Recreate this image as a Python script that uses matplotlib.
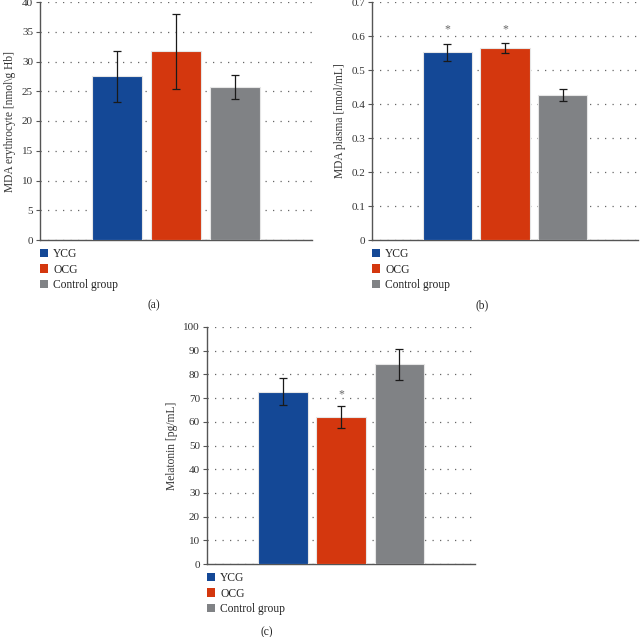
import matplotlib.pyplot as plt
from matplotlib.patches import Patch

plt.rcParams['font.family'] = ['Liberation Serif', 'DejaVu Serif']

# groups
groups = ['YCG', 'OCG', 'Control group']
colors = ['#144896', '#d4370e', '#808285']

# (a) MDA erythrocyte
mda_ery = [27.5, 31.7, 25.7]
mda_ery_err = [4.25, 6.25, 2.0]

# (b) MDA plasma
mda_pl = [0.552, 0.565, 0.427]
mda_pl_err = [0.025, 0.015, 0.018]
mda_pl_star = [True, True, False]

# (c) melatonin
mel = [72.7, 62.0, 84.2]
mel_err = [5.8, 4.6, 6.6]
mel_star = [False, True, False]

W, H = 641, 637
fig = plt.figure(figsize=(W / 100, H / 100), dpi=100)


def px_axes(x0, y0, x1, y1):
    return fig.add_axes([x0 / W, 1 - y1 / H, (x1 - x0) / W, (y1 - y0) / H])


def panel(ax, vals, errs, ymax, ystep, ylabel, stars=None, star_y=None, fmt=None):
    x = range(len(vals))
    ax.bar(x, vals, width=0.85, color=colors, edgecolor='#e6e6e6', linewidth=0.8, zorder=3)
    ax.errorbar(x, vals, yerr=errs, fmt='none', ecolor='#1a1a1a', elinewidth=0.9,
                capsize=3, capthick=0.9, zorder=4)
    if stars:
        for i, s in enumerate(stars):
            if s:
                ax.text(i, star_y[i], '*', ha='center', va='center', fontsize=8.5, color='#666666')
    ax.set_xlim(-1.3, 3.3)
    ax.set_ylim(0, ymax)
    ticks = [i * ystep for i in range(int(round(ymax / ystep)) + 1)]
    ax.set_yticks(ticks)
    if fmt:
        ax.set_yticklabels([fmt(t) for t in ticks])
    ax.set_xticks([])
    ax.yaxis.grid(True, linestyle=(0, (1, 5)), color='#666666', linewidth=0.9, zorder=0)
    for s in ['top', 'right']:
        ax.spines[s].set_visible(False)
    for s in ['left', 'bottom']:
        ax.spines[s].set_color('#555555')
        ax.spines[s].set_linewidth(1.0)
    ax.tick_params(axis='y', labelsize=8, length=3, color='#555555', labelcolor='#333333', pad=2)
    ax.set_ylabel(ylabel, fontsize=8.3, color='#333333', labelpad=4)
    handles = [Patch(facecolor=c, edgecolor='none') for c in colors]
    ax.legend(handles, groups, loc='upper left', bbox_to_anchor=(0.0, -0.035), frameon=False,
              fontsize=8.3, handlelength=0.7, handleheight=0.7, handletextpad=0.45,
              labelspacing=0.28, borderaxespad=0, borderpad=0, labelcolor='#222222')


ax_a = px_axes(40, 2, 312, 240)
panel(ax_a, mda_ery, mda_ery_err, 40, 5, 'MDA erythrocyte [nmol\\g Hb]')

ax_b = px_axes(372, 2, 638, 240)
panel(ax_b, mda_pl, mda_pl_err, 0.7, 0.1, 'MDA plasma [nmol/mL]', mda_pl_star,
      [0.62, 0.62, 0.0], fmt=lambda t: '0' if t == 0 else f'{t:.1f}')

ax_c = px_axes(207, 327, 475, 564)
panel(ax_c, mel, mel_err, 100, 10, 'Melatonin [pg/mL]', mel_star, [0, 71.5, 0])

fig.text(154 / W, 1 - 305 / H, '(a)', ha='center', va='center', fontsize=8.3, color='#222222')
fig.text(482 / W, 1 - 305 / H, '(b)', ha='center', va='center', fontsize=8.3, color='#222222')
fig.text(267 / W, 1 - 632 / H, '(c)', ha='center', va='center', fontsize=8.3, color='#222222')

fig.savefig('out.png', dpi=100)
